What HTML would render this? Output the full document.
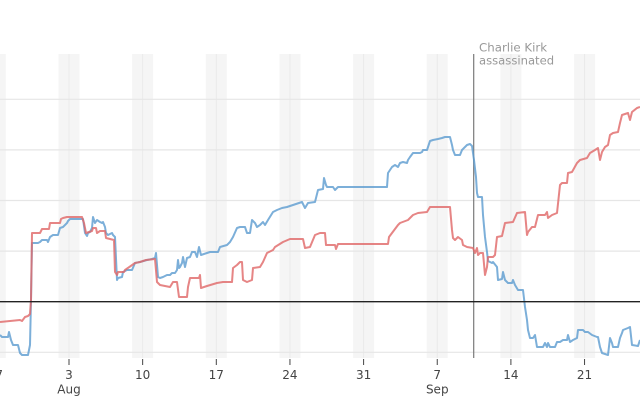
<!DOCTYPE html>
<html><head><meta charset="utf-8"><style>
html,body{margin:0;padding:0;background:#fff;}
svg{display:block;}
text{font-family:"DejaVu Sans","Liberation Sans",sans-serif;}
</style></head><body>
<svg width="640" height="400" viewBox="0 0 640 400" xmlns="http://www.w3.org/2000/svg">
<rect width="640" height="400" fill="#fff"/>
<!-- weekend bands -->
<g fill="#f5f5f5">
<rect x="-15.2" y="54" width="21" height="304"/>
<rect x="58.5" y="54" width="21" height="304"/>
<rect x="132.15" y="54" width="21" height="304"/>
<rect x="205.8" y="54" width="21" height="304"/>
<rect x="279.45" y="54" width="21" height="304"/>
<rect x="353.1" y="54" width="21" height="304"/>
<rect x="426.75" y="54" width="21" height="304"/>
<rect x="500.4" y="54" width="21" height="304"/>
<rect x="574.05" y="54" width="21" height="304"/>
</g>
<g stroke="#eaeaea" stroke-width="1">
<line x1="69" y1="54" x2="69" y2="358"/>
<line x1="142.65" y1="54" x2="142.65" y2="358"/>
<line x1="216.3" y1="54" x2="216.3" y2="358"/>
<line x1="289.95" y1="54" x2="289.95" y2="358"/>
<line x1="363.6" y1="54" x2="363.6" y2="358"/>
<line x1="437.25" y1="54" x2="437.25" y2="358"/>
<line x1="510.9" y1="54" x2="510.9" y2="358"/>
<line x1="584.55" y1="54" x2="584.55" y2="358"/>
</g>
<!-- horizontal gridlines -->
<g stroke="#e6e6e6" stroke-width="1.2">
<line x1="0" y1="99.3" x2="640" y2="99.3"/>
<line x1="0" y1="149.9" x2="640" y2="149.9"/>
<line x1="0" y1="200.5" x2="640" y2="200.5"/>
<line x1="0" y1="251.1" x2="640" y2="251.1"/>
<line x1="0" y1="352.3" x2="640" y2="352.3"/>
</g>
<!-- annotation line -->
<line x1="473.7" y1="54" x2="473.7" y2="358" stroke="#7a7a7a" stroke-width="1.2"/>
<text x="479" y="51.5" font-size="11.8" fill="#999">Charlie Kirk</text>
<text x="479" y="64.5" font-size="11.6" fill="#999">assassinated</text>
<!-- series -->
<polyline fill="none" stroke="#5b9bd0" stroke-opacity="0.8" stroke-width="2" stroke-linejoin="round" points="0,335 2,337 8,337 9,332 11,340 13,345 18,345 20,353 22,355 28,355 30,345 31,300 32,243 38,243 40,242 42,240 47,240 48,242 50,237 53,235 58,235 60,228 63,227 67,223 68,221 70,219 83,219 85,233 87,236 88,233 90,232 92,228 93,217 95,223 97,220 100,222 102,223 103,222 105,227 106,233 108,235 112,233 113,235 115,237 117,280 118,278 122,277 123,272 127,270 132,270 135,263 140,262 147,260 152,259 155,258 156,253 157,265 158,277 160,278 163,277 167,275 170,275 172,273 175,273 177,270 178,260 179,268 180,267 182,263 183,257 185,267 187,258 190,257 192,252 195,252 197,257 199,247 201,255 207,253 210,252 218,252 220,247 227,245 230,242 233,237 237,228 240,227 245,227 247,233 250,233 252,220 255,223 257,227 260,225 263,222 265,225 268,220 273,212 277,210 282,208 287,207 293,205 302,202 305,208 308,203 315,202 318,190 323,189 324,178 326,185 327,187 333,187 335,190 337,188 338,187 387,187 388,173 390,170 392,167 395,165 398,167 400,163 403,162 407,163 408,160 410,157 413,153 420,153 422,152 423,150 427,150 428,147 430,141 433,140 438,139 442,138 445,137 450,137 452,145 453,150 455,155 460,155 462,150 465,147 467,145 470,144 472,146 473,153 474,160 476,177 477,193 478,197 482,197 483,215 485,237 487,252 488,261 492,263 493,262 497,267 498,280 502,279 503,272 505,280 508,283 512,283 513,280 515,285 518,290 523,290 525,307 527,320 528,330 530,338 533,338 535,335 537,347 543,347 545,343 547,347 548,343 550,347 555,347 557,342 560,342 563,340 567,340 568,335 570,342 573,340 577,338 578,330 583,330 585,332 588,332 592,335 597,337 598,337 600,347 602,353 608,355 610,338 612,343 613,347 618,347 620,338 622,333 623,330 628,328 630,327 632,345 638,346 640,340"/>
<polyline fill="none" stroke="#e06666" stroke-opacity="0.8" stroke-width="2" stroke-linejoin="round" points="0,322 20,320 22,321 25,317 28,316 30,314 31,300 32,233 40,233 42,229 49,229 50,223 60,223 61,219 63,218 67,217 82,217 84,223 86,233 92,231 93,228 96,228 97,233 100,231 105,231 106,238 114,240 115,272 117,275 118,272 124,272 125,270 135,263 140,262 146,260 155,259 157,282 160,285 170,287 173,282 177,282 179,297 187,297 188,287 190,278 199,278 200,275 201,288 207,286 217,283 223,282 232,282 233,268 237,265 240,262 242,262 243,280 247,282 252,280 253,268 260,267 263,262 267,253 273,250 275,247 283,242 290,239 303,239 305,248 310,247 315,235 320,233 325,233 326,245 335,245 336,249 338,244 388,244 389,237 392,233 398,225 400,223 408,220 410,218 413,215 418,213 427,212 430,207 450,207 452,230 453,238 455,240 458,237 462,240 463,245 467,247 473,248 475,253 477,248 478,255 480,253 483,253 485,275 487,267 488,257 493,257 495,255 497,237 502,236 505,223 513,222 517,213 525,212 527,235 528,232 532,227 535,227 538,215 545,215 547,212 548,218 552,215 557,213 560,185 562,183 567,183 568,173 572,172 577,163 580,160 587,158 590,153 595,150 598,148 600,160 602,152 605,147 608,145 610,135 613,133 618,132 620,123 622,115 628,113 630,120 632,112 637,108 640,107"/>
<!-- zero line -->
<line x1="0" y1="301.7" x2="640" y2="301.7" stroke="#222" stroke-width="1.3"/>
<!-- ticks -->
<g stroke="#444" stroke-width="1">
<line x1="69" y1="359" x2="69" y2="365"/>
<line x1="142.65" y1="359" x2="142.65" y2="365"/>
<line x1="216.3" y1="359" x2="216.3" y2="365"/>
<line x1="289.95" y1="359" x2="289.95" y2="365"/>
<line x1="363.6" y1="359" x2="363.6" y2="365"/>
<line x1="437.25" y1="359" x2="437.25" y2="365"/>
<line x1="510.9" y1="359" x2="510.9" y2="365"/>
<line x1="584.55" y1="359" x2="584.55" y2="365"/>
</g>
<g font-size="12" fill="#444" text-anchor="middle">
<text x="-4.65" y="379">27</text>
<text x="69" y="379">3</text>
<text x="142.65" y="379">10</text>
<text x="216.3" y="379">17</text>
<text x="289.95" y="379">24</text>
<text x="363.6" y="379">31</text>
<text x="437.25" y="379">7</text>
<text x="510.9" y="379">14</text>
<text x="584.55" y="379">21</text>
<text x="69" y="393.5">Aug</text>
<text x="437.25" y="393.5">Sep</text>
</g>
</svg>
</body></html>
